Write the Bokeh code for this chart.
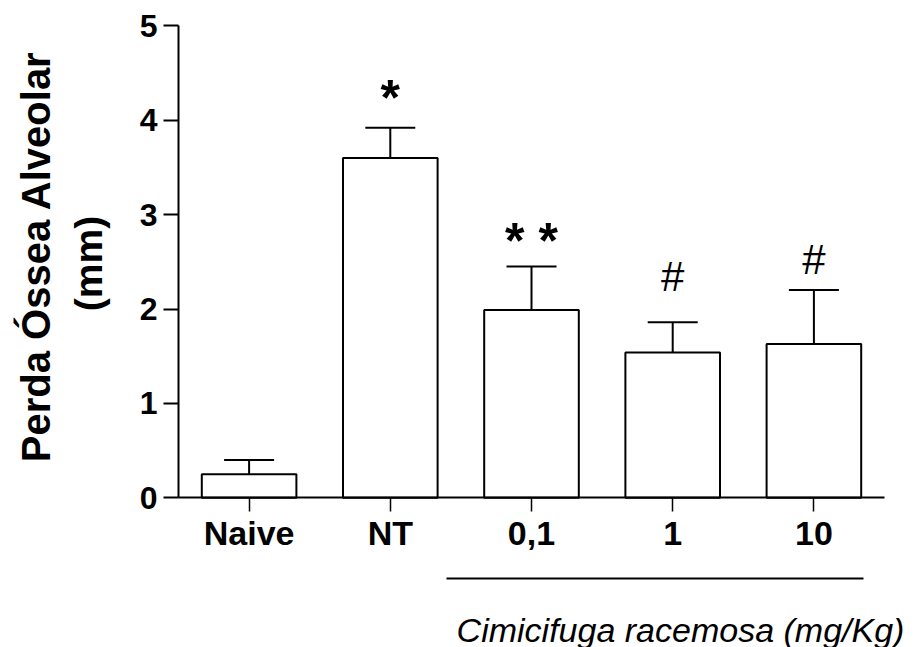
from math import pi

from bokeh.plotting import figure
from bokeh.models import (ColumnDataSource, Range1d, Whisker, TeeHead, Label,
                          Arrow, FixedTicker)
from bokeh.core.properties import value
from bokeh.embed import file_html
from bokeh.resources import INLINE

# ---- data ----
categories = ["Naive", "NT", "0,1", "1", "10"]
means = [0.25, 3.60, 1.99, 1.54, 1.63]
sems = [0.15, 0.32, 0.46, 0.32, 0.57]
marks = ["", "*", "* *", "#", "#"]
mark_y = [0.0, 4.23, 2.72, 2.34, 2.52]
y_ticks = [0, 1, 2, 3, 4, 5]
y_title = "Perda Óssea Alveolar"
y_unit = "(mm)"
group_title = "Cimicifuga racemosa (mg/Kg)"

FONT = "Liberation Sans"

# layout of the drawing area (pixels)
W, H = 915, 647
X0_PX, XSTEP_PX = 178, 141.2       # left edge of category axis, width of a category
Y0_PX, YUNIT_PX = 497.3, 94.4      # pixel row of y = 0, pixels per unit

xpos = [i + 0.5 for i in range(len(categories))]
src = ColumnDataSource(dict(
    x=xpos,
    mean=means,
    upper=[m + s for m, s in zip(means, sems)],
    mark=marks,
    mark_y=mark_y,
    mark_size=["50px" if "*" in m else "42px" for m in marks],
    mark_style=["bold" if "*" in m else "normal" for m in marks],
))

p = figure(width=W, height=H,
           x_range=Range1d(-X0_PX / XSTEP_PX, (W - X0_PX) / XSTEP_PX),
           y_range=Range1d(-(H - Y0_PX) / YUNIT_PX, Y0_PX / YUNIT_PX),
           output_backend="svg", toolbar_location=None,
           min_border=0)

p.background_fill_color = "white"
p.border_fill_color = "white"
p.outline_line_color = None
p.xgrid.visible = False
p.ygrid.visible = False

p.vbar(x="x", top="mean", width=0.67, source=src,
       fill_color="white", line_color="black", line_width=2)

wh = Whisker(base="x", upper="upper", lower="mean", source=src,
             upper_head=TeeHead(size=50, line_width=2, line_color="black"),
             lower_head=None, line_width=2, line_color="black",
             level="annotation")
p.add_layout(wh)

p.text(x="x", y="mark_y", text="mark", source=src,
       text_font=value(FONT), text_font_size="mark_size",
       text_font_style="mark_style",
       text_align="center", text_baseline="middle", text_color="black")

# x axis (drawn at y = 0)
xa = p.xaxis[0]
xa.fixed_location = 0
xa.bounds = (0, len(categories))
xa.ticker = FixedTicker(ticks=xpos)
xa.major_label_overrides = {x: c for x, c in zip(xpos, categories)}
xa.axis_line_width = 2
xa.axis_line_color = "black"
xa.major_tick_out = 14
xa.major_tick_in = 0
xa.major_tick_line_width = 1.5
xa.major_tick_line_color = "black"
xa.minor_tick_line_color = None
xa.major_label_standoff = 2
xa.major_label_text_font = FONT
xa.major_label_text_font_style = "bold"
xa.major_label_text_font_size = "34px"
xa.major_label_text_color = "black"

# y axis (drawn at x = 0)
ya = p.yaxis[0]
ya.fixed_location = 0
ya.bounds = (0, 5)
ya.ticker = FixedTicker(ticks=y_ticks)
ya.axis_line_width = 2
ya.axis_line_color = "black"
ya.major_tick_out = 15
ya.major_tick_in = 0
ya.major_tick_line_width = 2
ya.major_tick_line_color = "black"
ya.minor_tick_line_color = None
ya.major_label_standoff = 6
ya.major_label_text_font = FONT
ya.major_label_text_font_style = "bold"
ya.major_label_text_font_size = "32px"
ya.major_label_text_color = "black"

# y axis title (two lines)
p.add_layout(Label(x=35, y=H - 256, x_units="screen", y_units="screen",
                   text=y_title, angle=pi / 2, text_align="center",
                   text_baseline="middle", text_font=FONT,
                   text_font_style="bold", text_font_size="40px",
                   text_color="black"))
p.add_layout(Label(x=88, y=H - 263, x_units="screen", y_units="screen",
                   text=y_unit, angle=pi / 2, text_align="center",
                   text_baseline="middle", text_font=FONT,
                   text_font_style="bold", text_font_size="39px",
                   text_color="black"))

# group bracket line and title
p.add_layout(Arrow(x_start=446, y_start=H - 578, x_end=863, y_end=H - 578,
                   start_units="screen", end_units="screen",
                   start=None, end=None, line_width=2, line_color="black"))
p.add_layout(Label(x=680, y=H - 629, x_units="screen", y_units="screen",
                   text=group_title, text_align="center",
                   text_baseline="middle", text_font=FONT,
                   text_font_style="italic", text_font_size="34px",
                   text_color="black"))

open("out.html", "w").write(file_html(p, INLINE))
